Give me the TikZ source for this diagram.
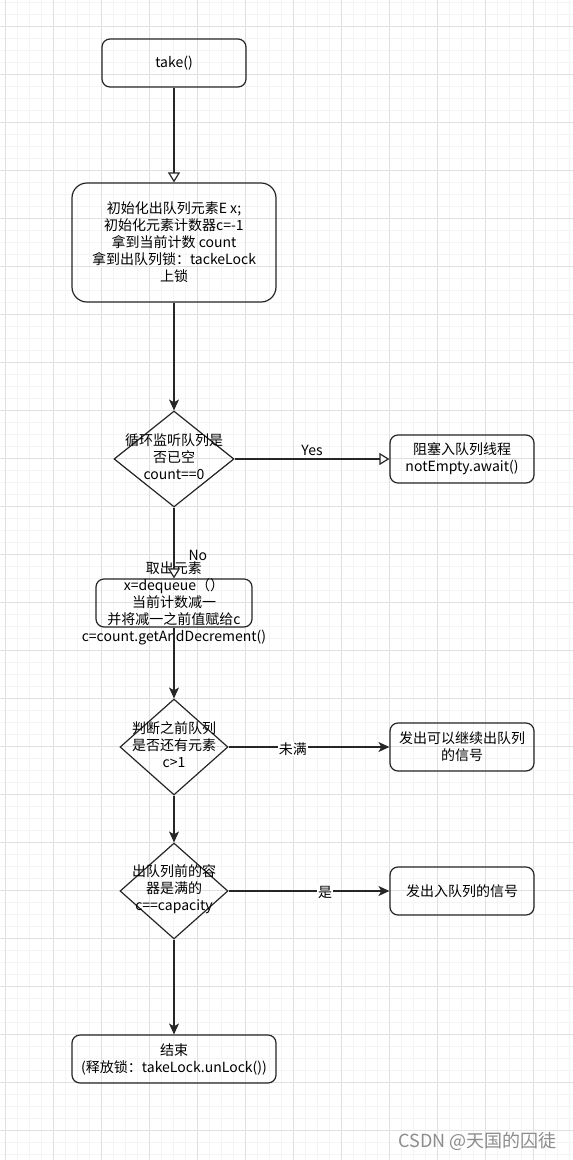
\documentclass[tikz,border=0pt]{standalone}
\usepackage{fontspec}
\setmainfont{Noto Sans CJK SC}
\usetikzlibrary{positioning,shapes.geometric,arrows.meta}
\definecolor{GridMajor}{RGB}{224,224,224}
\definecolor{GridMinor}{RGB}{244,244,244}
\definecolor{MarkGray}{RGB}{140,140,140}
\tikzset{txt/.style={align=center,font=\fontsize{14}{17}\selectfont,inner sep=0pt}, proc/.style={txt,draw=black!85,line width=1.2pt,rounded corners=8pt,minimum width=144pt,minimum height=48pt}, decision/.style={diamond,draw=black!85,line width=1.2pt,inner sep=0pt}, flow/.style={draw=black!85,line width=1.2pt,-{Stealth[length=11pt,width=10pt,inset=3pt]}}, openflow/.style={draw=black!85,line width=1.2pt,-{Triangle[length=10pt,width=12pt,fill=white]}}, elab/.style={font=\fontsize{14}{17}\selectfont,inner sep=1pt}, gridminor/.style={draw=GridMinor,line width=0.8pt}, gridmajor/.style={draw=GridMajor,line width=0.8pt}, watermark/.style={font=\fontsize{18}{20}\selectfont,text=MarkGray,inner sep=0pt}}

\begin{document}
\begin{tikzpicture}[x=1pt,y=-1pt]
\useasboundingbox (0,0) rectangle (573,1160);
\fill[white] (0,0) rectangle (573,1160);
% background grid
\foreach \gx in {5,17,...,569} \draw[gridminor] (\gx,0) -- (\gx,1160);
\foreach \gy in {2,14,...,1154} \draw[gridminor] (0,\gy) -- (573,\gy);
\foreach \gx in {5,53,...,533} \draw[gridmajor] (\gx,0) -- (\gx,1160);
\foreach \gy in {26,74,...,1130} \draw[gridmajor] (0,\gy) -- (573,\gy);
% boxes
\node[proc] (take) at (174,63) {take()};
\node[proc,minimum width=204pt,minimum height=119pt,rounded corners=15pt] (init) at (174,242.5) {初始化出队列元素E x;\\初始化元素计数器c=-1\\拿到当前计数 count\\拿到出队列锁：tackeLock\\上锁};
\node[decision,minimum width=120pt,minimum height=96pt] (isempty) at (174,459) {};
\node[txt] (isemptytxt) at (174,457) {循环监听队列是\\否已空\\count==0};
\node[proc] (block) at (462,459) {阻塞入队列线程\\notEmpty.await()};
\node[proc,minimum width=156pt] (deq) at (174,603) {};
\node[txt] (deqtxt) at (174,603) {取出元素\\x=dequeue（）\\当前计数减一\\并将减一之前值赋给c\\c=count.getAndDecrement()};
\node[decision,minimum width=108pt,minimum height=96pt] (remain) at (174,747) {};
\node[txt] (remaintxt) at (174,745) {判断之前队列\\是否还有元素\\c>1};
\node[proc] (goon) at (462,747) {发出可以继续出队列\\的信号};
\node[decision,minimum width=108pt,minimum height=96pt] (wasfull) at (174,891) {};
\node[txt] (wasfulltxt) at (174,889) {出队列前的容\\器是满的\\c==capacity};
\node[proc] (notfull) at (462,891) {发出入队列的信号};
\node[proc,minimum width=204pt] (finish) at (174,1059) {结束\\(释放锁：takeLock.unLock())};
% connectors
\draw[openflow] (take) -- (init);
\draw[flow] (init) -- (isempty);
\draw[openflow] (isempty) -- node[elab,above,yshift=2pt]{Yes} (block);
\draw[openflow] (isempty) -- node[elab,right,pos=0.67,xshift=13pt]{No} (deq);
\draw[flow] (deq) -- (remain);
\draw[flow] (remain) -- node[elab,fill=white,pos=0.4,yshift=-2pt]{未满} (goon);
\draw[flow] (remain) -- (wasfull);
\draw[flow] (wasfull) -- node[elab,fill=white,pos=0.6,yshift=-1pt]{是} (notfull);
\draw[flow] (wasfull) -- (finish);
\node[watermark,anchor=east] (wm) at (557,1141) {CSDN @天国的囚徒};
\end{tikzpicture}
\end{document}
